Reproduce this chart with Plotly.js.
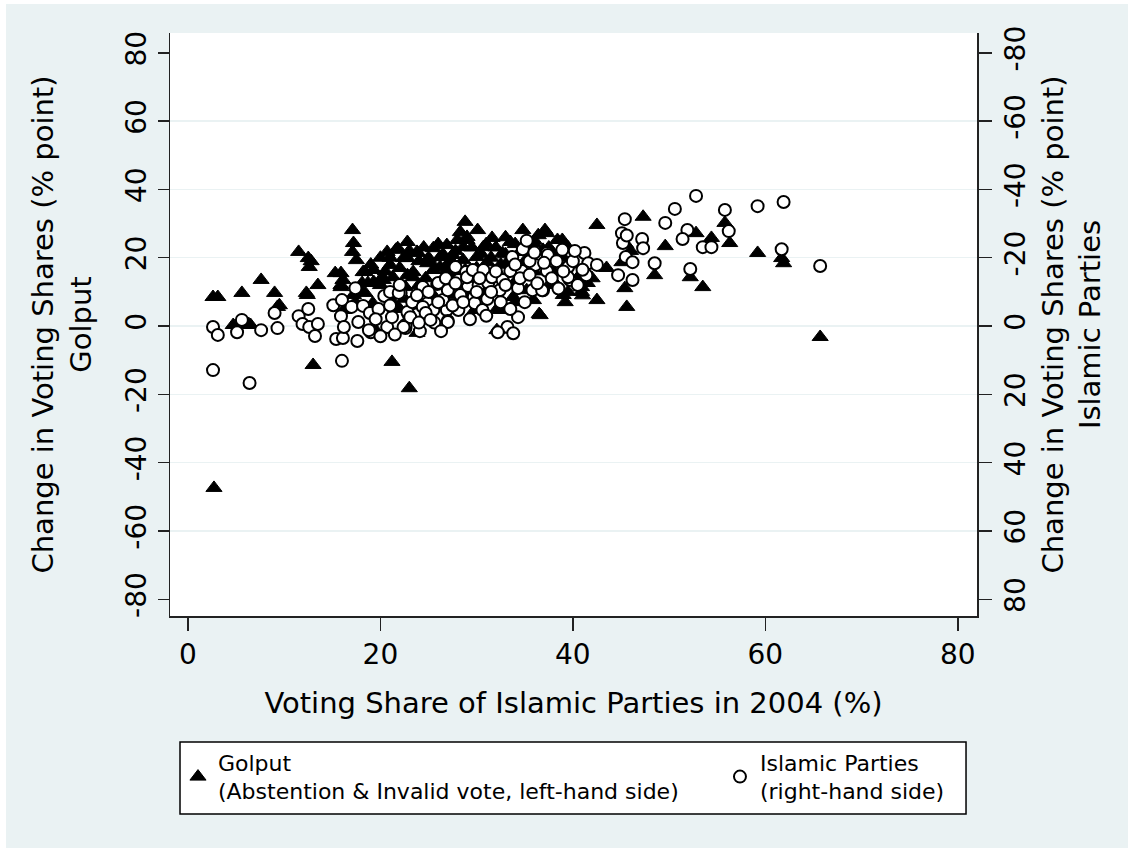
<!DOCTYPE html>
<html>
<head>
<meta charset="utf-8">
<script src="https://cdn.plot.ly/plotly-3.0.1.min.js"></script>
<style>
  html, body { margin: 0; padding: 0; background: #ffffff; }
  #chart { position: absolute; left: 6px; top: 4px; width: 1122px; height: 844px; }
</style>
</head>
<body>
<div id="chart"></div>
<script>
// Golput change (left-hand axis) vs Islamic parties' 2004 share
const golputX = [2.7,2.6,3.1,4.7,5.6,6.5,6.3,7.6,9.0,9.5,9.3,
  11.5,12.5,12.6,12.3,12.4,13.5,13.0,12.8,
  17.1,17.2,17.1,17.5,15.9,15.9,16.1,15.3,15.9,16.2,
  18.2,19.3,18.4,18.7,17.9,18.1,18.4,17.2,17.4,19.2,19.3,19.5,
  20.7,21.8,22.8,20.2,21.0,22.4,22.8,20.3,20.0,21.3,19.3,20.7,22.6,23.4,21.3,21.2,23.0,23.8,21.6,
  23.8,23.9,25.2,22.8,23.4,24.7,24.9,25.5,26.2,25.5,26.9,26.9,27.5,26.2,27.3,
  28.0,29.0,28.8,30.1,29.0,28.6,28.6,28.8,28.0,30.0,29.5,29.8,30.7,31.1,31.6,
  32.4,32.7,33.5,34.5,34.8,35.9,36.9,36.4,37.1,37.3,38.4,38.9,32.4,32.2,32.1,33.8,35.2,35.9,36.6,36.5,37.8,37.9,39.0,39.5,39.2,40.9,40.9,41.5,42.5,41.0,
  31.0,33.0,34.0,30.5,27.0,26.0,24.5,22.0,25.0,46.0,45.5,
  19.0,20.0,20.5,21.0,22.0,23.0,24.0,24.5,25.0,26.0,26.5,27.0,27.8,28.3,29.5,30.0,30.5,31.0,31.5,32.0,32.5,33.0,33.0,34.0,34.0,35.0,35.5,36.0,36.0,37.0,37.5,38.0,38.0,39.0,39.5,40.0,40.5,41.0,42.0,43.5,26.5,27.5,29.0,30.0,31.0,33.0,34.0,24.0,22.5,25.5,
  42.5,45.1,45.4,45.6,47.3,48.5,49.6,52.2,52.8,53.5,54.4,55.8,56.3,59.2,61.7,61.9,65.7];
const golputY = [-47.4,8.5,8.5,0.3,9.7,0.3,0.6,13.5,9.7,6.1,5.6,
  21.7,19.9,17.3,9.7,9.1,12.0,-11.4,19.0,
  28.1,24.3,21.7,19.3,15.5,12.0,13.5,15.5,11.4,4.7,
  15.8,16.4,15.8,12.6,10.5,12.6,9.7,9.1,7.0,6.7,4.7,-1.2,
  21.7,22.8,24.6,14.3,17.9,19.9,14.9,13.5,12.0,14.3,12.9,9.1,11.4,14.3,7.0,-10.5,-18.2,-2.0,22.3,
  21.7,21.4,18.7,19.9,15.8,14.0,18.4,16.4,20.2,22.8,23.7,16.4,20.8,17.3,19.3,
  25.2,25.2,30.5,28.1,26.1,23.1,19.3,16.4,13.5,20.2,11.4,4.7,23.1,18.7,25.8,
  14.9,21.4,24.6,21.7,28.1,24.3,22.3,26.6,28.1,27.2,25.2,25.2,4.7,5.3,-1.2,8.5,10.5,7.6,3.2,3.5,12.0,13.5,9.1,10.0,7.0,11.4,10.0,12.6,7.6,9.0,
  16.0,18.0,13.0,9.0,9.0,12.0,10.0,5.0,6.0,22.0,24.0,
  18.0,20.0,16.0,20.0,17.0,22.0,19.0,23.0,20.0,24.0,21.0,18.0,22.0,27.5,23.0,17.0,21.0,24.0,20.0,23.0,18.0,21.0,26.0,24.0,17.0,19.0,22.0,25.0,16.0,19.0,23.0,21.0,16.0,20.0,23.0,18.0,14.0,16.0,14.0,17.0,13.0,15.0,8.0,13.0,10.0,12.0,7.0,12.0,8.0,9.0,
  29.6,18.7,11.1,5.6,32.0,14.9,23.4,14.3,27.2,11.4,25.8,30.2,24.3,21.4,19.9,18.4,-3.2];

// Islamic parties change (right-hand axis, reversed)
const islamicX = [2.6,3.1,2.6,5.1,5.6,6.4,7.6,9.3,9.0,
  11.5,12.5,11.9,12.6,13.5,13.2,15.1,15.9,15.4,16.1,16.0,16.2,16.0,
  17.4,17.0,17.7,17.6,18.2,18.9,19.0,19.8,20.4,20.7,21.2,22.1,22.6,22.9,23.4,24.4,24.9,25.9,25.5,26.9,27.0,27.8,28.9,29.0,29.7,28.2,18.8,21.0,21.9,22.8,22.6,
  23.3,24.4,24.7,23.1,26.0,26.5,27.0,28.3,28.1,29.8,30.6,31.1,29.1,30.2,31.2,32.4,34.3,35.8,36.9,27.0,22.4,
  28.1,29.0,29.6,30.7,31.6,32.7,33.5,34.7,36.1,33.7,34.8,37.3,
  34.3,33.2,32.2,33.8,36.8,37.3,37.4,38.9,39.5,39.7,41.2,41.6,42.5,41.4,39.5,
  25.6,26.3,24.1,
  19.5,20.0,21.0,21.5,22.0,23.8,24.0,25.0,25.2,26.0,26.8,27.5,27.8,28.6,29.3,30.0,30.3,31.0,31.5,32.0,32.5,33.0,33.5,34.0,34.5,35.0,35.5,35.5,36.3,37.0,37.8,38.3,38.5,39.0,40.0,40.5,41.0,40.2,36.0,35.2,
  45.4,45.1,45.2,47.2,47.3,45.5,46.2,44.7,46.2,48.5,49.6,50.6,51.9,51.4,52.8,53.5,54.4,55.8,56.2,59.2,61.9,61.7,65.7,52.2,45.6];
const islamicY = [0.3,2.6,12.9,1.8,-1.8,16.7,1.2,0.6,-3.8,
  -2.9,-5.0,-0.6,0.3,-0.6,2.9,-6.1,-2.9,3.8,3.5,10.2,0.3,-7.6,
  -11.1,-5.6,-1.2,4.4,-5.9,-3.8,1.8,-5.0,-8.8,0.3,-2.6,-9.7,0.6,-3.5,-6.7,-11.4,-6.7,-12.3,-4.7,-4.7,-1.5,-17.3,-15.8,-11.4,-8.5,-9.7,1.2,-10.0,-9.7,-4.1,-0.3,
  -7.0,-5.6,-3.8,-2.6,-12.6,-7.6,-10.5,-9.1,-4.7,-6.7,-4.7,-7.9,-11.7,-12.0,-12.6,-10.5,-11.1,-10.5,-10.5,-1.2,0.3,
  -13.5,-14.3,-16.4,-16.4,-14.3,-13.5,-16.1,-16.1,-17.9,-20.2,-22.5,-21.4,
  -2.6,0.3,1.8,2.1,-10.5,-16.1,-20.8,-22.3,-17.3,-13.5,-21.4,-18.4,-17.9,-14.9,-14.3,
  -1.0,1.5,1.5,
  -2.0,3.0,-6.0,2.5,-12.0,-9.0,-1.0,-10.0,-1.8,-7.0,-14.0,-6.0,-12.5,-7.0,-2.0,-10.0,-14.0,-3.0,-10.0,-16.0,-7.0,-12.0,-5.0,-18.0,-14.0,-7.0,-19.0,-15.0,-12.5,-18.5,-14.0,-19.0,-11.0,-16.0,-19.0,-12.0,-16.5,-22.0,-21.5,-25.0,
  -31.3,-27.2,-24.3,-25.5,-22.8,-20.2,-18.7,-14.9,-13.5,-18.4,-30.2,-34.3,-28.1,-25.5,-38.1,-23.1,-23.1,-34.0,-27.8,-35.1,-36.3,-22.5,-17.6,-16.7,-26.5];

const yTicks = [-80,-60,-40,-20,0,20,40,60,80];
const gridTicks = [-60,-40,-20,0,20,40,60];
const xTicks = [0,20,40,60,80];

const FONT = "'DejaVu Sans', sans-serif";
const BG = '#EAF2F3';
const AX = '#222222';

const traces = [
  {
    x: golputX, y: golputY, type: 'scatter', mode: 'markers', yaxis: 'y', legend: 'legend',
    name: 'Golput<br>(Abstention & Invalid vote, left-hand side)',
    marker: { symbol: 'triangle-up', size: 14, color: '#000000', line: { color: '#000000', width: 1 } }
  },
  {
    x: islamicX, y: islamicY, type: 'scatter', mode: 'markers', yaxis: 'y2', legend: 'legend2',
    name: 'Islamic Parties<br>(right-hand side)',
    marker: { symbol: 'circle', size: 12, color: '#ffffff', line: { color: '#000000', width: 2 } }
  }
];

const legendCommon = {
  xref: 'paper', yref: 'paper', xanchor: 'left', yanchor: 'middle',
  bgcolor: 'rgba(0,0,0,0)', borderwidth: 0, valign: 'middle', itemsizing: 'trace',
  font: { family: FONT, size: 22, color: '#000000' }
};

const layout = {
  width: 1122, height: 844,
  margin: { l: 164, r: 151, t: 29, b: 232 },
  paper_bgcolor: BG, plot_bgcolor: '#ffffff',
  font: { family: FONT, color: '#000000', size: 26 },
  showlegend: true,
  xaxis: {
    range: [-1.87, 82.0], tickvals: xTicks, ticktext: xTicks.map(String),
    ticks: 'outside', ticklen: 13, tickwidth: 1.5, tickcolor: AX,
    showline: true, linecolor: AX, linewidth: 1.5, mirror: false,
    showgrid: false, zeroline: false, automargin: false,
    tickfont: { family: FONT, size: 28 },
    title: { text: 'Voting Share of Islamic Parties in 2004 (%)', font: { family: FONT, size: 29 }, standoff: 22 }
  },
  yaxis: {
    range: [-84.9, 85.8], tickvals: yTicks, ticktext: yTicks.map(String),
    ticks: 'outside', ticklen: 11, tickwidth: 1.5, tickcolor: AX, tickangle: -90,
    showline: true, linecolor: AX, linewidth: 1.5, automargin: false,
    showgrid: false, zeroline: false,
    minor: { tickvals: gridTicks, showgrid: true, gridcolor: BG, gridwidth: 1.5, ticks: '' },
    tickfont: { family: FONT, size: 28 },
    title: { text: 'Change in Voting Shares (% point)<br>Golput', font: { family: FONT, size: 29 }, standoff: 20 }
  },
  yaxis2: {
    overlaying: 'y', side: 'right', anchor: 'x', automargin: false,
    range: [84.9, -85.8], tickvals: yTicks, ticktext: yTicks.map(String),
    ticks: 'outside', ticklen: 13, tickwidth: 1.5, tickcolor: AX, tickangle: -90,
    showline: true, linecolor: AX, linewidth: 1.5,
    showgrid: false, zeroline: false,
    tickfont: { family: FONT, size: 28 },
    title: { text: 'Change in Voting Shares (% point)<br>Islamic Parties', font: { family: FONT, size: 29 }, standoff: 11 }
  },
  legend: Object.assign({}, legendCommon, { x: 0.0099, y: -0.2762 }),
  legend2: Object.assign({}, legendCommon, { x: 0.6815, y: -0.2762 }),
  shapes: [
    { type: 'rect', xref: 'paper', yref: 'paper', x0: 0.0124, x1: 0.9864, y0: -0.3396, y1: -0.2161,
      fillcolor: '#ffffff', line: { color: '#000000', width: 1.5 }, layer: 'below' }
  ]
};

Plotly.newPlot('chart', traces, layout, { displayModeBar: false, staticPlot: true });
</script>
</body>
</html>
